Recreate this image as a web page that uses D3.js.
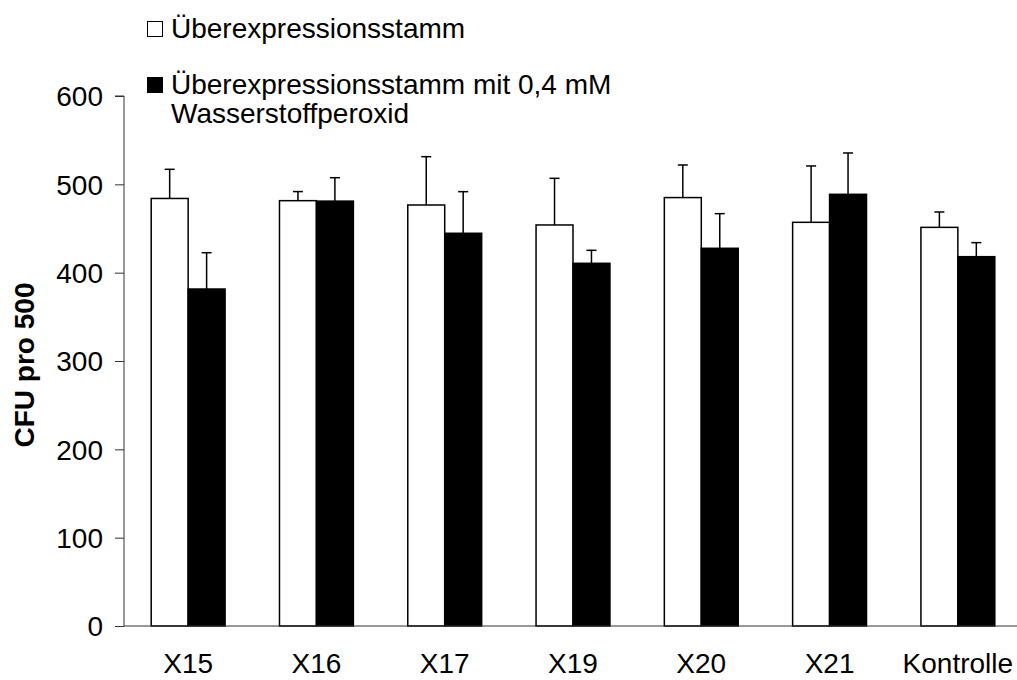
<!DOCTYPE html>
<html>
<head>
<meta charset="utf-8">
<script src="https://cdn.jsdelivr.net/npm/d3@7"></script>
<style>
  body { margin: 0; background: #fff; }
  text { font-family: Arial, "Liberation Sans", sans-serif; fill: #000; }
</style>
</head>
<body>
<div id="chart"></div>
<script>
// data
var categories = ["X15", "X16", "X17", "X19", "X20", "X21", "Kontrolle"];
var seriesNames = ["Überexpressionsstamm", "Überexpressionsstamm mit 0,4 mM Wasserstoffperoxid"];
var plain = [484, 481.5, 476.6, 454, 485, 457, 451.3];
var plainErr = [33, 10.3, 54.7, 52.8, 36.9, 63.8, 17.4];
var peroxid = [381.5, 481, 444.6, 410.6, 427.6, 488.7, 418.1];
var peroxidErr = [41.1, 26.5, 47.1, 14.7, 39.2, 46.8, 15.9];
var yTicks = [0, 100, 200, 300, 400, 500, 600];

var width = 1017, height = 680;
var svg = d3.select('#chart').append('svg')
  .attr('width', width).attr('height', height);

var x = d3.scaleBand().domain(categories).range([124, 1022]).padding(0);
var y = d3.scaleLinear().domain([0, 600]).range([626, 96]);
var barW = x.bandwidth() * 0.288;

var rows = [];
categories.forEach(function(c, i) {
  rows.push({cat: c, s: 0, v: plain[i], e: plainErr[i]});
  rows.push({cat: c, s: 1, v: peroxid[i], e: peroxidErr[i]});
});

function barX(d) {
  var center = x(d.cat) + x.bandwidth() / 2;
  return d.s == 0 ? center - barW : center;
}

// error bars (upwards only), drawn behind bars
var err = svg.append('g').attr('stroke', '#000').attr('stroke-width', 1.5);
rows.forEach(function(d) {
  var cx = barX(d) + barW / 2;
  err.append('line').attr('x1', cx).attr('x2', cx)
    .attr('y1', y(d.v)).attr('y2', y(d.v + d.e));
  err.append('line').attr('x1', cx - 5).attr('x2', cx + 5)
    .attr('y1', y(d.v + d.e)).attr('y2', y(d.v + d.e));
});

svg.append('g').selectAll('rect').data(rows).enter().append('rect')
  .attr('x', barX)
  .attr('y', function(d) { return y(d.v); })
  .attr('width', barW)
  .attr('height', function(d) { return y(0) - y(d.v); })
  .attr('fill', function(d) { return d.s == 0 ? '#fff' : '#000'; })
  .attr('stroke', '#000')
  .attr('stroke-width', 1.5);

// y axis
var yAxis = svg.append('g').attr('transform', 'translate(124,0)')
  .call(d3.axisLeft(y).tickValues(yTicks).tickSize(9).tickPadding(12).tickFormat(d3.format('d')));
yAxis.selectAll('text').style('font-size', '28px').attr('dy', '0.35em');
yAxis.selectAll('line').attr('stroke', '#333');
yAxis.select('.domain').attr('stroke', '#333').attr('d', 'M-9,' + y(600) + 'H0V' + y(0));

// x axis
svg.append('line').attr('x1', 124).attr('x2', width)
  .attr('y1', y(0)).attr('y2', y(0)).attr('stroke', '#333').attr('stroke-width', 1);
svg.append('g').selectAll('text').data(categories).enter().append('text')
  .attr('x', function(d) { return x(d) + x.bandwidth() / 2; })
  .attr('y', 673)
  .attr('text-anchor', 'middle')
  .style('font-size', '28px')
  .text(function(d) { return d; });

// y title
svg.append('text')
  .attr('transform', 'translate(34,365) rotate(-90)')
  .attr('text-anchor', 'middle')
  .style('font-size', '28px').style('font-weight', 'bold')
  .text('CFU pro 500');

// legend
var lg = svg.append('g');
lg.append('rect').attr('x', 147.5).attr('y', 21.5).attr('width', 15).attr('height', 15)
  .attr('fill', '#fff').attr('stroke', '#000').attr('stroke-width', 1);
lg.append('text').attr('x', 171).attr('y', 38).style('font-size', '28px').text(seriesNames[0]);
lg.append('rect').attr('x', 147).attr('y', 77).attr('width', 16).attr('height', 16)
  .attr('fill', '#000');
lg.append('text').attr('x', 171).attr('y', 94).style('font-size', '28px').text('Überexpressionsstamm mit 0,4 mM');
lg.append('text').attr('x', 171).attr('y', 123).style('font-size', '28px').text('Wasserstoffperoxid');
</script>
</body>
</html>
